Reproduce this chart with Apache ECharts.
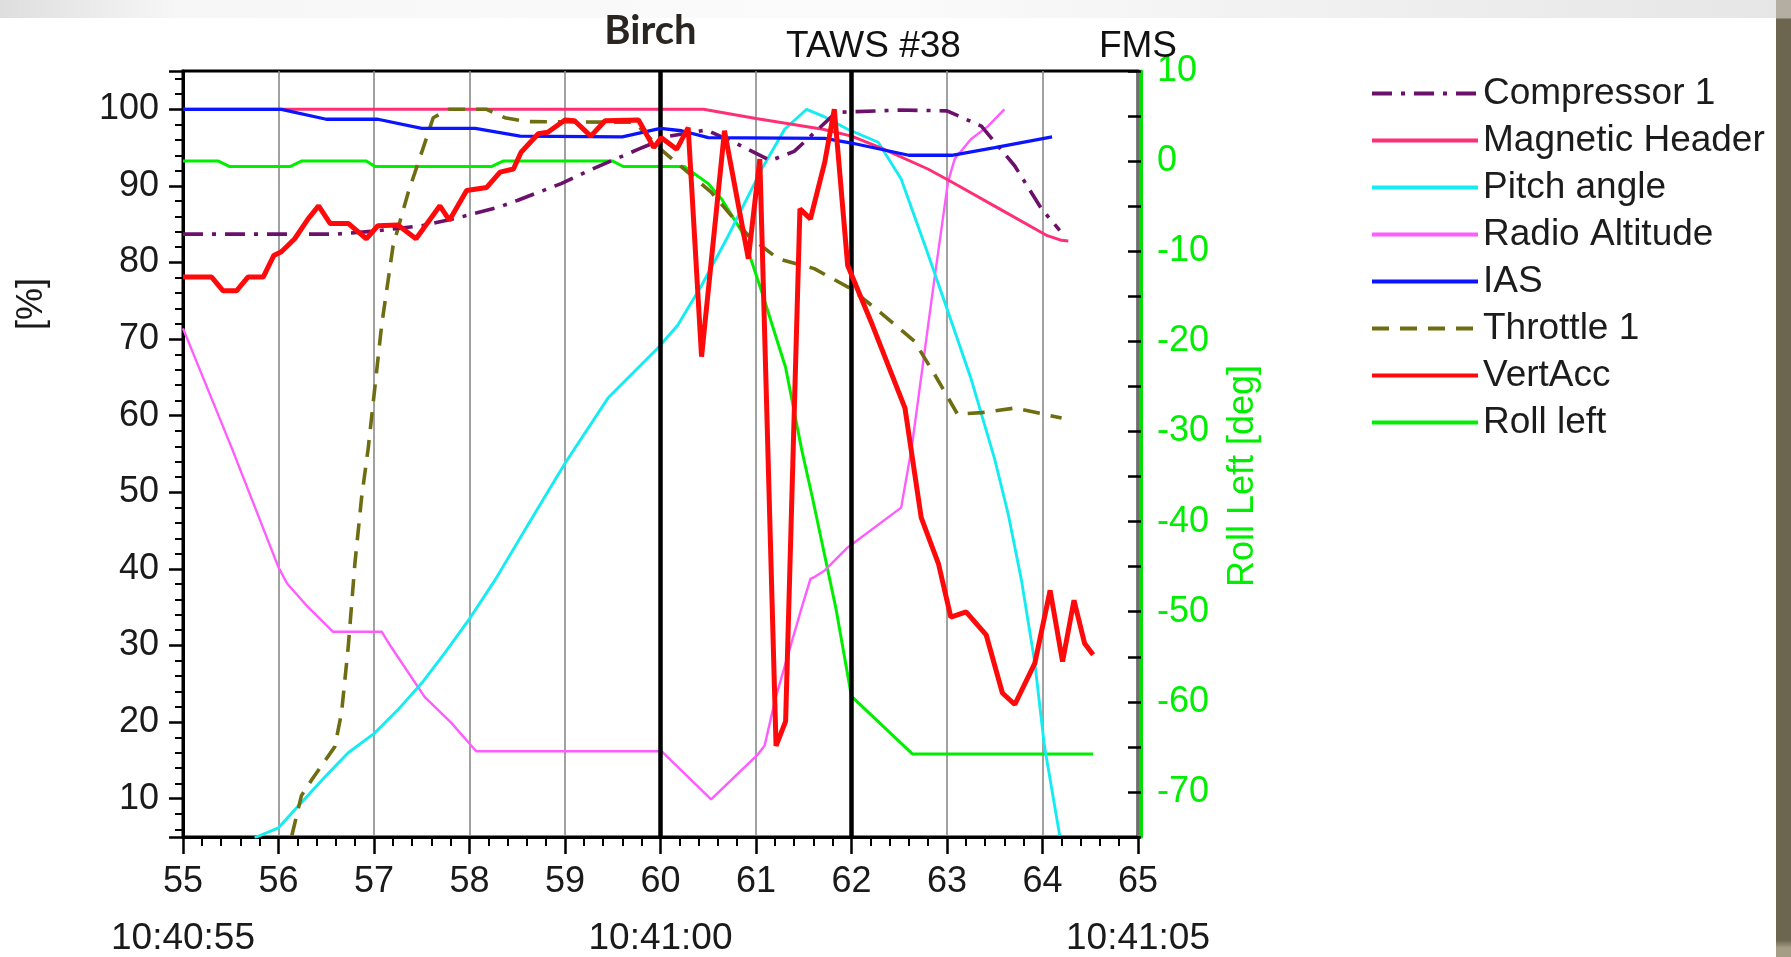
<!DOCTYPE html>
<html><head><meta charset="utf-8">
<script src="https://cdn.jsdelivr.net/npm/echarts@6/dist/echarts.min.js"></script>
<style>
html,body{margin:0;padding:0;width:1791px;height:957px;overflow:hidden;background:#fff;}
#topband{position:absolute;left:0;top:0;width:1776px;height:18px;background:linear-gradient(to right,#dedede,#f7f7f7 10%,#fbfbfb 50%,#eeeeee 80%,#e6e6e6);}
#rightband{position:absolute;left:1776px;top:0;width:15px;height:957px;background:linear-gradient(to bottom,#b3ada2 0,#b3ada2 18px,#6c6550 19px,#6c6550 940px,#a59d86 948px);}
#chart{position:absolute;left:0;top:0;width:1791px;height:957px;}
</style></head>
<body><div id="topband"></div><div id="rightband"></div><div id="chart"></div>
<script>
// ---- data (x = seconds after 10:40:00) ----
const legendNames = ['Compressor 1','Magnetic Header','Pitch angle','Radio Altitude','IAS','Throttle 1','VertAcc','Roll left'];
const timeLabels = ['10:40:55','10:41:00','10:41:05'];
const eventLines = [60, 62, 65];
const eventLabels = ['Birch', 'TAWS #38', 'FMS'];

const compressor1 = [[55,83.7],[56.6,83.7],[57.0,84.1],[57.5,84.8],[57.9,85.9],[58.3,87.2],[58.5,88.1],[58.96,90.3],[59.25,92.0],[59.77,94.8],[60.1,96.5],[60.48,97.3],[60.8,95.5],[61.15,93.3],[61.4,94.5],[61.84,99.6],[62.5,99.9],[63.0,99.8],[63.36,97.8],[63.71,92.6],[63.99,87.0],[64.18,84.2]];
const magneticHeader = [[55,100],[60.45,100],[61.0,98.8],[61.7,97.4],[62.0,96.5],[62.3,95.0],[62.8,92.2],[63.05,90.5],[63.55,87.0],[64.05,83.5],[64.2,82.9],[64.27,82.8]];
const pitchAngle = [[55.75,4.9],[56.0,6.2],[56.24,9.5],[56.49,12.9],[56.73,16.0],[57.01,18.6],[57.25,21.6],[57.5,25.1],[57.74,29.0],[57.99,33.3],[58.27,38.6],[58.6,45.5],[59.0,53.8],[59.45,62.3],[59.97,68.8],[60.18,71.8],[60.43,77.0],[60.71,83.5],[61.06,92.2],[61.3,97.4],[61.53,100],[61.72,99.0],[61.96,97.4],[62.28,95.7],[62.52,90.9],[62.77,82.2],[63.01,73.6],[63.25,64.9],[63.5,54.3],[63.64,47.2],[63.78,38.5],[63.92,27.7],[64.02,16.9],[64.18,5.2]];
const radioAltitude = [[55.0,71.4],[55.51,55.8],[56.0,40.2],[56.09,38.1],[56.31,35.0],[56.57,31.8],[57.08,31.8],[57.18,29.8],[57.53,23.3],[57.81,19.9],[58.07,16.2],[60.01,16.2],[60.53,9.9],[61.02,15.8],[61.09,16.9],[61.2,22.9],[61.34,29.0],[61.48,35.0],[61.57,38.7],[61.62,39.0],[61.72,39.8],[61.96,42.8],[62.52,48.0],[62.63,55.8],[62.85,76.2],[63.01,90.5],[63.08,93.5],[63.25,96.1],[63.43,97.8],[63.6,100]];
const ias = [[55,100],[56.03,100],[56.5,98.7],[57.04,98.7],[57.5,97.5],[58.06,97.5],[58.53,96.5],[59.6,96.4],[60.0,97.5],[60.22,97.2],[60.5,96.3],[61.72,96.2],[62.0,95.6],[62.6,94.0],[63.05,94.0],[63.5,95.0],[64.1,96.4]];
const throttle1 = [[56.14,5.2],[56.24,10.4],[56.35,12.5],[56.59,16.8],[56.66,21.2],[56.73,29.8],[56.8,40.7],[56.87,49.3],[56.94,55.8],[57.08,71.8],[57.2,82.2],[57.36,89.2],[57.5,94.4],[57.62,98.9],[57.78,100],[58.18,100],[58.37,98.9],[58.6,98.4],[59.73,98.3],[60.0,94.8],[60.53,89.2],[60.92,83.5],[61.23,80.5],[61.61,79.2],[61.99,76.6],[62.31,73.4],[62.66,69.7],[62.87,65.4],[63.11,60.2],[63.36,60.4],[63.71,61.0],[64.2,59.7]];
const vertAcc = [[55.0,78.1],[55.3,78.1],[55.42,76.3],[55.56,76.3],[55.68,78.1],[55.84,78.1],[55.95,80.9],[56.03,81.4],[56.17,83.1],[56.31,85.7],[56.42,87.4],[56.54,85.1],[56.73,85.1],[56.92,83.1],[57.04,84.8],[57.25,84.9],[57.44,83.1],[57.69,87.4],[57.79,85.5],[57.97,89.4],[58.18,89.8],[58.32,91.8],[58.46,92.2],[58.54,94.4],[58.72,96.8],[58.82,97.0],[59.0,98.6],[59.1,98.5],[59.27,96.5],[59.42,98.5],[59.77,98.6],[59.93,95.0],[60.01,96.3],[60.17,94.8],[60.29,97.6],[60.43,67.7],[60.67,97.2],[60.92,80.5],[61.04,93.5],[61.21,16.9],[61.31,20.1],[61.46,87.0],[61.57,85.7],[61.72,93.1],[61.82,100],[61.96,79.6],[62.22,71.8],[62.56,61.0],[62.73,46.7],[62.91,40.7],[63.04,33.7],[63.2,34.4],[63.41,31.4],[63.58,23.8],[63.71,22.3],[63.92,27.7],[64.08,37.2],[64.21,27.9],[64.33,35.9],[64.44,30.3],[64.53,28.8]];
const rollLeft = [[55,0],[55.37,0],[55.49,-0.6],[56.12,-0.6],[56.24,0],[56.92,0],[57.01,-0.6],[58.23,-0.6],[58.35,0],[59.5,0],[59.61,-0.6],[60.25,-0.6],[60.5,-2.5],[60.64,-4.2],[60.85,-7.8],[61.06,-14.5],[61.31,-22.9],[61.48,-32.1],[61.59,-37.3],[61.84,-49.8],[62.0,-59.4],[62.64,-65.8],[64.53,-65.8]];

// ---- chart ----
const FONT = "'Liberation Sans', Arial, sans-serif";
const chart = echarts.init(document.getElementById('chart'), null, {renderer: 'canvas'});

function mk(name, data, color, width, type, yIdx, z) {
  return {name: name, type: 'line', data: data, yAxisIndex: yIdx, xAxisIndex: 0,
    symbol: 'none', showSymbol: false, smooth: false, z: z, animation: false,
    lineStyle: {color: color, width: width, type: type}, itemStyle: {color: color},
    emphasis: {disabled: true}};
}

const sRoll = mk('Roll left', rollLeft, '#00ee00', 3, 'solid', 1, 2);
const sRadio = mk('Radio Altitude', radioAltitude, '#ff5cff', 2.4, 'solid', 0, 3);
const sPitch = mk('Pitch angle', pitchAngle, '#14ecf2', 2.9, 'solid', 0, 3);
const sMag = mk('Magnetic Header', magneticHeader, '#ff2f74', 2.9, 'solid', 0, 3);
const sThr = mk('Throttle 1', throttle1, '#6f6d12', 3.6, [17, 11], 0, 4);
const sComp = mk('Compressor 1', compressor1, '#6b116b', 3.6, [20, 9, 4, 9], 0, 4);
const sIas = mk('IAS', ias, '#0a14ff', 3.3, 'solid', 0, 5);
const sVert = mk('VertAcc', vertAcc, '#ff0a0a', 5, 'solid', 0, 6);

const labelStyles = [
  {fontFamily: "Lato, 'Open Sans', sans-serif", fontWeight: 'bold', fontSize: 40, color: '#2a2520', distance: 20, padding: [0, 20, 0, 0]},
  {fontFamily: FONT, fontWeight: 'normal', fontSize: 37, color: '#111', distance: 6, padding: [0, 0, 0, 44]},
  {fontFamily: FONT, fontWeight: 'normal', fontSize: 37, color: '#111', distance: 6, padding: [0, 0, 0, 0]}
];
sIas.markLine = {
  symbol: 'none', silent: true, animation: false,
  lineStyle: {color: '#000', width: 4.5, type: 'solid'},
  data: eventLines.map(function (v, i) {
    return {xAxis: v,
      lineStyle: i === 2 ? {color: 'rgba(0,0,0,0)', width: 0} : {color: '#000', width: 4.5, type: 'solid'},
      label: Object.assign({show: true, position: 'end', formatter: eventLabels[i]}, labelStyles[i])};
  })
};

const option = {
  backgroundColor: 'transparent',
  animation: false,
  grid: {left: 183, right: 653, top: 71, bottom: 116, show: true, borderColor: '#000', borderWidth: 3, containLabel: false},
  legend: {
    data: legendNames, orient: 'vertical', left: 1370, top: 75, padding: 0,
    itemWidth: 106, itemHeight: 14, itemGap: 10, selectedMode: false,
    textStyle: {fontFamily: FONT, fontSize: 37, color: '#1c1c1c'},
    lineStyle: {width: 4},
    itemStyle: {opacity: 0}
  },
  xAxis: [
    {type: 'value', min: 55, max: 65, interval: 1, position: 'bottom',
      axisLine: {show: true, onZero: false, lineStyle: {color: '#000', width: 3}},
      axisTick: {show: true, length: 17, lineStyle: {color: '#000', width: 2.5}},
      minorTick: {show: true, splitNumber: 5, length: 9, lineStyle: {color: '#000', width: 2}},
      axisLabel: {fontFamily: FONT, fontSize: 36, color: '#1a1a1a', margin: 27},
      splitLine: {show: true, lineStyle: {color: '#8a8a8a', width: 1.6}},
      minorSplitLine: {show: false}},
    {type: 'value', min: 55, max: 65, interval: 5, position: 'bottom', offset: 75,
      axisLine: {show: false}, axisTick: {show: false}, splitLine: {show: false},
      axisLabel: {fontFamily: FONT, fontSize: 37, color: '#1a1a1a', margin: 8,
        formatter: function (v) { return timeLabels[Math.round((v - 55) / 5)] || ''; }}}
  ],
  yAxis: [
    {type: 'value', min: 5, max: 105, splitNumber: 10, position: 'left',
      axisLine: {show: true, lineStyle: {color: '#000', width: 3}},
      axisTick: {show: true, length: 14, lineStyle: {color: '#000', width: 2.5}},
      minorTick: {show: true, splitNumber: 5, length: 8, lineStyle: {color: '#000', width: 2}},
      axisLabel: {fontFamily: FONT, fontSize: 36, color: '#1a1a1a', margin: 24,
        formatter: function (v) { return (Math.round(v) % 10 === 0) ? String(v) : ''; }},
      splitLine: {show: false}, minorSplitLine: {show: false}},
    {type: 'value', min: -75, max: 10, interval: 5, position: 'right', offset: 3,
      axisLine: {show: true, lineStyle: {color: '#00dd00', width: 3}},
      axisTick: {show: true, inside: true, length: 13, lineStyle: {color: '#000', width: 2.5}},
      axisLabel: {fontFamily: FONT, fontSize: 36, color: '#00ee00', margin: 16,
        formatter: function (v) { return (Math.round(v) % 10 === 0) ? String(v) : ''; }},
      splitLine: {show: false}}
  ],
  graphic: [
    {type: 'text', x: 32, y: 304, rotation: Math.PI / 2, silent: true,
      style: {text: '[%]', font: "36px 'Liberation Sans', Arial", fill: '#1a1a1a', align: 'center', verticalAlign: 'middle'}},
    {type: 'text', x: 1243, y: 476, rotation: Math.PI / 2, silent: true,
      style: {text: 'Roll Left [deg]', font: "36px 'Liberation Sans', Arial", fill: '#00ee00', align: 'center', verticalAlign: 'middle'}}
  ],
  series: [sRoll, sRadio, sPitch, sMag, sThr, sComp, sIas, sVert]
};
chart.setOption(option);
</script>
</body></html>
